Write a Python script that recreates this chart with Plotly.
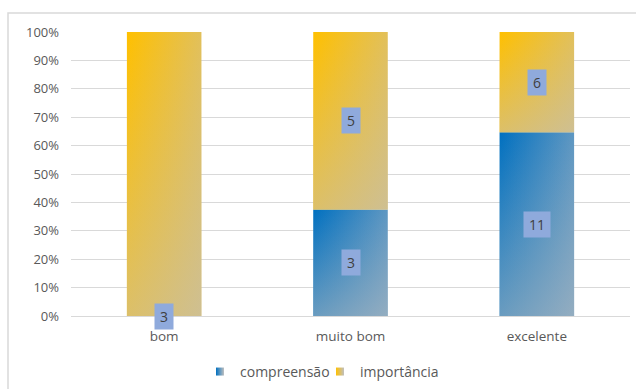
import plotly.graph_objects as go

categories = ["bom", "muito bom", "excelente"]
compreensao = [0, 3, 11]
importancia = [3, 5, 6]
compreensao_labels = ["3", "3", "11"]
importancia_labels = ["", "5", "6"]
y_ticks = [0, 0.1, 0.2, 0.3, 0.4, 0.5, 0.6, 0.7, 0.8, 0.9, 1.0]

BLUE = "#0070C0"
BLUE_MID = "#5E97C2"
YELLOW = "#FFC000"
YELLOW_MID = "#E2C05A"
GRAY = "#BFBFBF"
TXT = "#595959"
GRID = "#D9D9D9"
FONT = "Open Sans"
BAR_W = 0.4

fig = go.Figure()

totals = [a + b for a, b in zip(compreensao, importancia)]
comp_pct = [a / t for a, t in zip(compreensao, totals)]
imp_pct = [b / t for b, t in zip(importancia, totals)]


def add_segment(i, y0, y1, sat, mid, name):
    if y1 - y0 <= 0:
        return
    xs = [i - BAR_W / 2, i + BAR_W / 2, i + BAR_W / 2, i - BAR_W / 2, i - BAR_W / 2]
    ys = [y0, y0, y1, y1, y0]
    fig.add_trace(go.Scatter(
        x=xs, y=ys, mode="lines", fill="toself", line=dict(width=0, color="rgba(0,0,0,0)"),
        fillgradient=dict(type="horizontal", colorscale=[[0, sat], [1, mid]]),
        showlegend=False, hoverinfo="skip", name=name))
    fig.add_trace(go.Scatter(
        x=xs, y=ys, mode="lines", fill="toself", line=dict(width=0, color="rgba(0,0,0,0)"),
        fillgradient=dict(type="vertical",
                          colorscale=[[0, "rgba(191,191,191,0.55)"], [1, "rgba(191,191,191,0)"]]),
        showlegend=False, hoverinfo="skip", name=name))


for i, cat in enumerate(categories):
    add_segment(i, 0, comp_pct[i], BLUE, BLUE_MID, "compreensão")
    add_segment(i, comp_pct[i], comp_pct[i] + imp_pct[i], YELLOW, YELLOW_MID, "importância")

# legend entries (one legend per entry for precise placement)
for name, sat, lg in [("compreensão", BLUE, "legend"), ("importância", YELLOW, "legend2")]:
    fig.add_trace(go.Scatter(
        x=[None], y=[None], mode="markers", name=name, legend=lg,
        marker=dict(symbol="square", size=8, color=sat,
                    gradient=dict(type="horizontal", color=GRAY))))

# data labels
for i in range(len(categories)):
    for lab, yc in [(compreensao_labels[i], comp_pct[i] / 2),
                    (importancia_labels[i], comp_pct[i] + imp_pct[i] / 2)]:
        if lab == "":
            continue
        fig.add_annotation(x=i, y=yc, xref="x", yref="y", text=lab, showarrow=False,
                           bgcolor="#8FAADC", borderpad=3, width=4 + 8 * len(lab),
                           font=dict(family=FONT, size=14, color="#404040"))

# chart border (top and left edges visible)
fig.add_shape(type="path", xref="paper", yref="paper",
              path="M -0.1127,-0.4 L -0.1127,1.0669 L 1.2,1.0669",
              line=dict(color=GRID, width=1.5))

leg_common = dict(orientation="h", y=-0.197, yanchor="middle", xanchor="left",
                  font=dict(family=FONT, size=14, color=TXT), itemwidth=30,
                  bgcolor="rgba(0,0,0,0)")

fig.update_layout(
    width=636, height=389,
    margin=dict(l=71, r=6, t=32, b=73, autoexpand=False),
    paper_bgcolor="white", plot_bgcolor="white",
    font=dict(family=FONT, size=13, color=TXT),
    showlegend=True,
    legend=dict(x=0.2308, **leg_common),
    legend2=dict(x=0.4454, **leg_common),
    xaxis=dict(range=[-0.5, 2.5], tickvals=list(range(len(categories))), ticktext=categories,
               showgrid=False, zeroline=False, showline=False, ticks="",
               ticklabelstandoff=10, tickfont=dict(family=FONT, size=13.5, color=TXT),
               fixedrange=True, automargin=False),
    yaxis=dict(range=[0, 1], tickvals=y_ticks, tickformat=".0%", showgrid=True,
               gridcolor=GRID, gridwidth=1, zeroline=True, zerolinecolor=GRID, zerolinewidth=1,
               showline=False, ticks="", ticklabelstandoff=11,
               tickfont=dict(family=FONT, size=13, color=TXT), fixedrange=True,
               automargin=False),
)

fig.write_html("out.html")
